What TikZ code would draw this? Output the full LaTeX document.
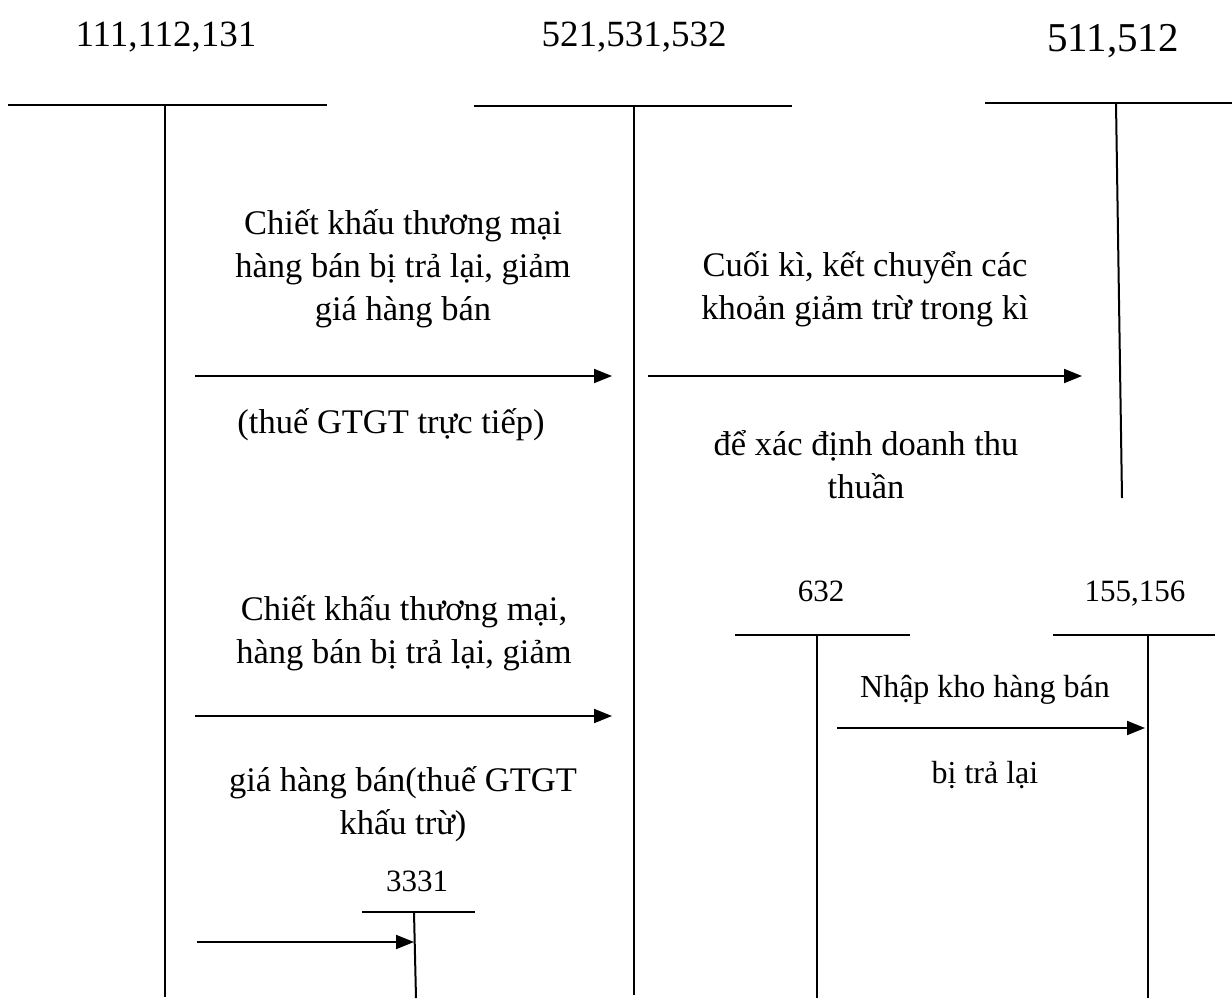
\documentclass[tikz,border=0pt]{standalone}
\usepackage{fontspec}
\setmainfont{Liberation Serif}
\usetikzlibrary{arrows.meta}
\begin{document}
\begin{tikzpicture}[x=1pt,y=-1pt,
  ledger/.style={line width=2pt},
  flow/.style={line width=2pt,-{Triangle[length=18pt,width=14pt]}},
  acct/.style={inner sep=0,anchor=base,font=\fontsize{37}{44}\selectfont},
  bigacct/.style={inner sep=0,anchor=base,font=\fontsize{41}{48}\selectfont},
  smallacct/.style={inner sep=0,anchor=base,font=\fontsize{31}{38}\selectfont},
  note/.style={inner sep=0,anchor=base,align=center,font=\fontsize{34.5}{43}\selectfont},
  ]
\useasboundingbox (0,0) rectangle (1232,1005);

% account headings
\node[acct] (h1) at (166,46) {111,112,131};
\node[acct] (h2) at (634,46) {521,531,532};
\node[bigacct] (h3) at (1113,51) {511,512};
\node[smallacct] (h4) at (417,891) {3331};
\node[smallacct] (h5) at (821,601) {632};
\node[smallacct] (h6) at (1135,601) {155,156};

% T-account frames
\coordinate (k1l) at (8,105);    \coordinate (k1r) at (327,105);
\coordinate (k1t) at (165,105);  \coordinate (k1b) at (165,997);
\coordinate (k2l) at (474,106);  \coordinate (k2r) at (792,106);
\coordinate (k2t) at (634,106);  \coordinate (k2b) at (634,995);
\coordinate (k3l) at (985,103);  \coordinate (k3r) at (1232,103);
\coordinate (k3t) at (1116,103); \coordinate (k3b) at (1122,498);
\coordinate (k4l) at (362,912);  \coordinate (k4r) at (475,912);
\coordinate (k4t) at (414,912);  \coordinate (k4b) at (416,998);
\coordinate (k5l) at (735,635);  \coordinate (k5r) at (910,635);
\coordinate (k5t) at (817,635);  \coordinate (k5b) at (817,998);
\coordinate (k6l) at (1053,635); \coordinate (k6r) at (1215,635);
\coordinate (k6t) at (1148,635); \coordinate (k6b) at (1148,998);

\foreach \k in {1,...,6}{
  \draw[ledger] (k\k l) -- (k\k r);
  \draw[ledger] (k\k t) -- (k\k b);
}

% entries
\coordinate (f1s) at (195,376);  \coordinate (f1e) at (612,376);
\coordinate (f2s) at (648,376);  \coordinate (f2e) at (1082,376);
\coordinate (f3s) at (195,716);  \coordinate (f3e) at (612,716);
\coordinate (f4s) at (197,942);  \coordinate (f4e) at (414,942);
\coordinate (f5s) at (837,728);  \coordinate (f5e) at (1145,728);

\draw[flow] (f1s) -- (f1e);
\draw[flow] (f2s) -- (f2e);
\draw[flow] (f3s) -- (f3e);
\draw[flow] (f4s) -- (f4e);
\draw[flow] (f5s) -- (f5e);

% entry descriptions (base anchor = baseline of the last line)
\node[note] (n1a) at (403,320) {Chiết khấu thương mại\\hàng bán bị trả lại, giảm\\giá hàng bán};
\node[note] (n1b) at (391,433) {(thuế GTGT trực tiếp)};
\node[note] (n2a) at (865,319) {Cuối kì, kết chuyển các\\khoản giảm trừ trong kì};
\node[note] (n2b) at (866,498) {để xác định doanh thu\\thuần};
\node[note] (n3a) at (404,663) {Chiết khấu thương mại,\\hàng bán bị trả lại, giảm};
\node[note] (n3b) at (403,834) {giá hàng bán(thuế GTGT\\khấu trừ)};
\node[note,font=\fontsize{32}{42}\selectfont] (n5a) at (985,697) {Nhập kho hàng bán};
\node[note,font=\fontsize{32}{42}\selectfont] (n5b) at (985,783) {bị trả lại};
\end{tikzpicture}
\end{document}
